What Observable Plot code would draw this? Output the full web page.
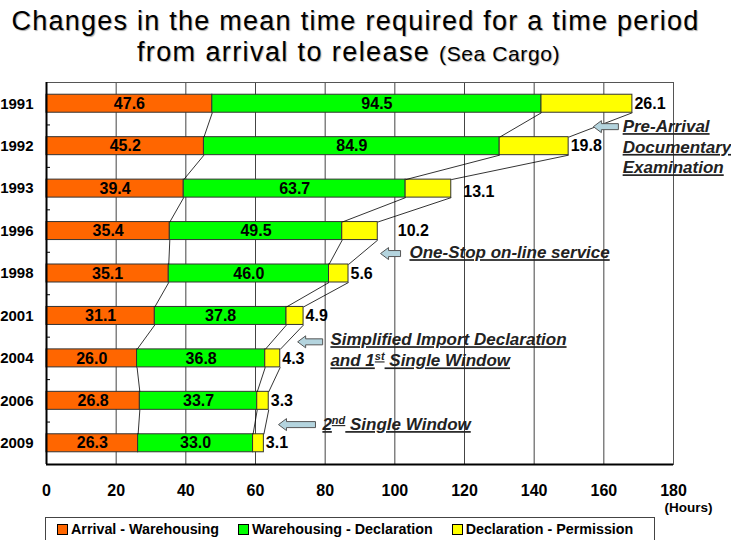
<!DOCTYPE html>
<html><head><meta charset="utf-8">
<script src="https://cdn.jsdelivr.net/npm/d3@7"></script>
<script src="https://cdn.jsdelivr.net/npm/@observablehq/plot@0.6"></script>
<style>
body{margin:0;background:#fff;}
#wrap{position:relative;width:731px;height:540px;overflow:hidden;font-family:"Liberation Sans",Arial,sans-serif;background:#fff;}
#title{position:absolute;left:0;top:0;width:711px;padding-right:20px;padding-top:6px;text-align:center;font-size:27px;line-height:31px;letter-spacing:1.25px;color:#000;text-shadow:1px 1px 1px #aaa;white-space:nowrap;}
#title .l2{position:relative;left:-7px;letter-spacing:1.4px;}
#title small{font-size:21px;letter-spacing:0.6px;}
#chart{position:absolute;left:0;top:78px;}
#legend{position:absolute;left:45px;top:517px;width:610px;height:30px;border:1px solid #444;box-sizing:border-box;display:flex;align-items:flex-start;padding:3px 0 0 11px;font-size:14.3px;font-weight:bold;line-height:17px;}
#legend .it{display:flex;align-items:center;margin-right:19px;white-space:nowrap;}
#legend .sw{display:inline-block;width:9px;height:9px;border:1px solid #000;margin-right:3px;}
</style>
</head><body>
<div id="wrap">
  <div id="title">Changes in the mean time required for a time period<br><span class="l2">from arrival to release <small>(Sea Cargo)</small></span></div>
  <div id="chart"></div>
  <div id="legend"></div>
</div>
<script>
// ---- data ----
const years = ["1991","1992","1993","1996","1998","2001","2004","2006","2009"];
const arrivalWarehousing     = [47.6, 45.2, 39.4, 35.4, 35.1, 31.1, 26.0, 26.8, 26.3];
const warehousingDeclaration = [94.5, 84.9, 63.7, 49.5, 46.0, 37.8, 36.8, 33.7, 33.0];
const declarationPermission  = [26.1, 19.8, 13.1, 10.2, 5.6, 4.9, 4.3, 3.3, 3.1];
const seriesNames = ["Arrival - Warehousing", "Warehousing - Declaration", "Declaration - Permission"];
const seriesColors = ["#FF6600", "#00FF00", "#FFFF00"];
const xTicks = [0, 20, 40, 60, 80, 100, 120, 140, 160, 180];

// ---- derived table ----
const seriesValues = [arrivalWarehousing, warehousingDeclaration, declarationPermission];
const segments = [];
const cumByRow = years.map((y, i) => {
  let acc = 0;
  const c = [];
  seriesValues.forEach((vals, k) => {
    segments.push({i, year: y, series: seriesNames[k], k, value: vals[i], x1: acc, x2: acc + vals[i]});
    acc += vals[i];
    c.push(acc);
  });
  return c;
});
const H = 0.212; // half bar thickness in row units
const links = [];
for (let i = 0; i < years.length - 1; i++) {
  for (let k = 0; k < 3; k++) links.push({x1: cumByRow[i][k], y1: i + H, x2: cumByRow[i + 1][k], y2: i + 1 - H});
}
const rowIdx = years.map((_, i) => i);
const boundaries = years.map((_, i) => i + 0.5);

// annotations (text lines and arrows)
const annotLines = [
  {text: "Pre-Arrival", x: 165.4, y: 0.54},
  {text: "Documentary", x: 165.4, y: 1.03},
  {text: "Examination", x: 165.4, y: 1.51},
  {text: "One-Stop on-line service", x: 104.2, y: 3.51},
  {text: "Simplified Import Declaration", x: 81.5, y: 5.56},
  {text: "and 1st Single Window", x: 81.5, y: 6.06},
  {text: "2nd Single Window", x: 79.2, y: 7.56}
];
function arrowSymbol(len) {
  return {draw(ctx) {
    ctx.moveTo(0, 0); ctx.lineTo(8, -6); ctx.lineTo(8, -3); ctx.lineTo(len, -3);
    ctx.lineTo(len, 3); ctx.lineTo(8, 3); ctx.lineTo(8, 6); ctx.closePath();
  }};
}
const arrows = [
  {x: 157.0, y: 0.54, len: 25},
  {x: 95.9, y: 3.53, len: 20},
  {x: 72.1, y: 5.61, len: 25},
  {x: 66.6, y: 7.56, len: 37}
];

const labelStyle = {fontSize: 16, fontWeight: "bold", fill: "#000"};
const yellow = segments.filter(d => d.k === 2);

const chart = Plot.plot({
  width: 731,
  height: 438,
  marginTop: 4,
  marginBottom: 52,
  marginLeft: 46,
  marginRight: 58,
  style: {fontFamily: "'Liberation Sans', Arial, sans-serif", background: "transparent"},
  x: {domain: [0, 180]},
  y: {domain: [-0.5, 8.5], reverse: true},
  color: {domain: seriesNames, range: seriesColors},
  marks: [
    Plot.ruleX(xTicks.filter(v => v > 0 && v < 180), {stroke: "#444", strokeWidth: 1}),
    Plot.frame({stroke: "#555"}),
    Plot.rect(segments, {x1: "x1", x2: "x2", y1: d => d.i - H, y2: d => d.i + H, fill: "series", stroke: "#333", strokeWidth: 1}),
    Plot.link(links, {x1: "x1", y1: "y1", x2: "x2", y2: "y2", stroke: "#000", strokeWidth: 0.8}),
    Plot.ruleX([0], {stroke: "#000", strokeWidth: 2}),
    Plot.ruleY([8.5], {stroke: "#000", strokeWidth: 2}),
    Plot.axisY(boundaries, {tickSize: -4, tickFormat: () => "", stroke: "#000"}),
    Plot.axisY(rowIdx, {tickSize: 0, tickPadding: 13, tickFormat: i => years[i], fontSize: 15, fontWeight: "bold", fill: "#000"}),
    Plot.axisX(xTicks, {tickSize: 0, tickPadding: 20, fontSize: 16, fontWeight: "bold", fill: "#000"}),
    Plot.text(segments.filter(d => d.k < 2), {x: d => (d.x1 + d.x2) / 2, y: "i", text: d => d.value.toFixed(1), ...labelStyle}),
    Plot.text(yellow.filter(d => d.year !== "1993" && d.year !== "1996"), {x: "x2", y: "i", text: d => d.value.toFixed(1), textAnchor: "start", dx: 2, ...labelStyle}),
    Plot.text(yellow.filter(d => d.year === "1993"), {x: "x2", y: "i", text: d => d.value.toFixed(1), textAnchor: "start", dx: 12, dy: 3, ...labelStyle}),
    Plot.text(yellow.filter(d => d.year === "1996"), {x: "x2", y: "i", text: d => d.value.toFixed(1), textAnchor: "start", dx: 20, ...labelStyle}),
    ...arrows.map(a => Plot.dot([a], {x: "x", y: "y", symbol: arrowSymbol(a.len), r: 6, fill: "#B4D4DE", stroke: "#555", strokeWidth: 1})),
    Plot.text(annotLines, {x: "x", y: "y", text: "text", textAnchor: "start", fontSize: 17, fontWeight: "bold", fontStyle: "italic", fill: "#222", ariaDescription: "annot"}),
    Plot.text(["(Hours)"], {frameAnchor: "bottom-right", dx: 39, dy: 47, textAnchor: "end", fontSize: 13.5, fontWeight: "bold", fill: "#000"})
  ]
});
document.getElementById("chart").appendChild(chart);

// underline annotations, superscripts for ordinal suffixes
d3.select(chart).selectAll("g[aria-description='annot'] text")
  .style("text-decoration", "underline")
  .each(function() {
    const t = this.textContent;
    const m = t.match(/^(.*?\d)(st|nd)(.*)$/);
    if (m) {
      const s = d3.select(this);
      s.text(null);
      s.append("tspan").text(m[1]);
      s.append("tspan").attr("baseline-shift", "super").attr("font-size", 11).text(m[2]);
      s.append("tspan").text(m[3]);
    }
  });

// legend
const lg = d3.select("#legend");
seriesNames.forEach((n, k) => {
  const it = lg.append("span").attr("class", "it");
  it.append("span").attr("class", "sw").style("background", seriesColors[k]);
  it.append("span").text(n);
});
</script>
</body></html>
